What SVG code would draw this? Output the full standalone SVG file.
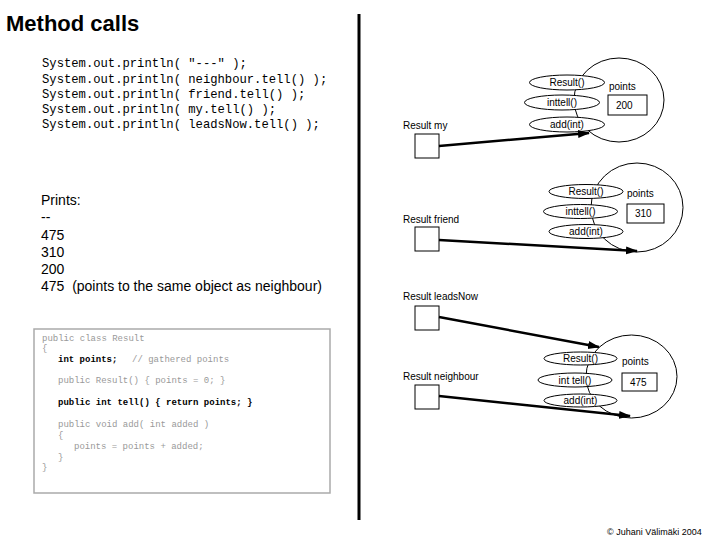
<svg xmlns="http://www.w3.org/2000/svg" width="720" height="540" viewBox="0 0 720 540">
<defs>
<style>
.t{font-family:"Liberation Sans",Arial,sans-serif;fill:#000}
.s{font-size:10px}
.m{font-family:"Liberation Mono","Courier New",monospace}
.g{fill:#999;font-size:9px}
.b{fill:#000;font-size:9px;font-weight:bold}
.ov{fill:#fff;stroke:#000;stroke-width:1}
.circ{fill:none;stroke:#000;stroke-width:1}
.box{fill:#fff;stroke:#000;stroke-width:1}
.arr{fill:none;stroke:#000;stroke-width:2.5}
</style>
<marker id="ah" markerUnits="userSpaceOnUse" markerWidth="12" markerHeight="10" refX="11" refY="5" orient="auto">
<path d="M0,1 L12,5 L0,9 Z" fill="#000"/>
</marker>
</defs>
<rect width="720" height="540" fill="#fff"/>

<g id="title">
<text class="t" x="6" y="31" font-size="22" font-weight="bold">Method calls</text>
</g>
<line x1="359" y1="14" x2="359" y2="520" stroke="#000" stroke-width="3"/>

<g id="main-code" class="m" font-size="12.2" fill="#000">
<text x="42" y="67" xml:space="preserve">System.out.println( "---" );</text>
<text x="42" y="83" xml:space="preserve">System.out.println( neighbour.tell() );</text>
<text x="42" y="98" xml:space="preserve">System.out.println( friend.tell() );</text>
<text x="42" y="113" xml:space="preserve">System.out.println( my.tell() );</text>
<text x="42" y="128" xml:space="preserve">System.out.println( leadsNow.tell() );</text>
</g>

<g id="prints" class="t" font-size="14">
<text x="41" y="205">Prints:</text>
<text x="41" y="222">--</text>
<text x="41" y="240">475</text>
<text x="41" y="257">310</text>
<text x="41" y="274">200</text>
<text x="41" y="291" xml:space="preserve">475  (points to the same object as neighbour)</text>
</g>

<g id="class-code">
<rect x="34" y="329" width="296" height="164" fill="#fff" stroke="#aaa" stroke-width="1.5"/>
<g class="m">
<text class="g" x="42" y="341">public class Result</text>
<text class="g" x="42" y="351">{</text>
<text class="b" x="58" y="362">int points;</text>
<text class="g" x="132" y="362">// gathered points</text>
<text class="g" x="58" y="383">public Result() { points = 0; }</text>
<text class="b" x="58" y="405">public int tell() { return points; }</text>
<text class="g" x="58" y="427">public void add( int added )</text>
<text class="g" x="58" y="438">{</text>
<text class="g" x="74" y="449">points = points + added;</text>
<text class="g" x="58" y="460">}</text>
<text class="g" x="42" y="470">}</text>
</g>
</g>

<g id="obj-my">
<ellipse class="circ" cx="619" cy="100" rx="45" ry="42"/>
<ellipse class="ov" cx="567" cy="82.5" rx="37.5" ry="7.5"/>
<ellipse class="ov" cx="562" cy="102.5" rx="37.5" ry="7.5"/>
<ellipse class="ov" cx="567" cy="124.5" rx="37.5" ry="7.5"/>
<text class="t s" x="567" y="86" text-anchor="middle">Result()</text>
<text class="t s" x="562" y="106" text-anchor="middle">inttell()</text>
<text class="t s" x="567" y="128" text-anchor="middle">add(int)</text>
<text class="t s" x="609" y="90">points</text>
<rect class="box" x="608" y="95" width="39" height="20"/>
<text class="t s" x="616" y="109">200</text>
</g>

<g id="obj-friend">
<ellipse class="circ" cx="637" cy="207.5" rx="46" ry="44.5"/>
<ellipse class="ov" cx="586" cy="191.5" rx="37" ry="7"/>
<ellipse class="ov" cx="580.5" cy="211.5" rx="37" ry="7"/>
<ellipse class="ov" cx="586" cy="231.5" rx="37" ry="7"/>
<text class="t s" x="586" y="195" text-anchor="middle">Result()</text>
<text class="t s" x="580.5" y="215" text-anchor="middle">inttell()</text>
<text class="t s" x="586" y="235" text-anchor="middle">add(int)</text>
<text class="t s" x="627" y="197">points</text>
<rect class="box" x="627" y="204" width="37" height="19"/>
<text class="t s" x="635" y="217">310</text>
</g>

<g id="obj-neighbour">
<ellipse class="circ" cx="631.5" cy="376.5" rx="45.5" ry="41.5"/>
<ellipse class="ov" cx="580.5" cy="358.5" rx="36.5" ry="6.5"/>
<ellipse class="ov" cx="575" cy="380" rx="37" ry="7"/>
<ellipse class="ov" cx="580.5" cy="400.5" rx="36.5" ry="6.5"/>
<text class="t s" x="580.5" y="362" text-anchor="middle">Result()</text>
<text class="t s" x="575" y="383.5" text-anchor="middle">int tell()</text>
<text class="t s" x="580.5" y="404" text-anchor="middle">add(int)</text>
<text class="t s" x="622" y="365">points</text>
<rect class="box" x="622" y="373" width="35" height="18"/>
<text class="t s" x="630" y="386">475</text>
</g>

<g id="ref-my">
<text class="t s" x="403" y="129">Result my</text>
<rect class="box" x="415" y="134" width="24" height="24"/>
</g>
<g id="ref-friend">
<text class="t s" x="403" y="223">Result friend</text>
<rect class="box" x="415" y="227" width="24" height="24"/>
</g>
<g id="ref-leadsNow">
<text class="t s" x="403" y="300">Result leadsNow</text>
<rect class="box" x="415" y="306" width="24" height="24"/>
</g>
<g id="ref-neighbour">
<text class="t s" x="403" y="380">Result neighbour</text>
<rect class="box" x="415" y="385" width="24" height="24"/>
</g>

<g id="connectors">
<line class="arr" x1="439" y1="146" x2="589" y2="133" marker-end="url(#ah)"/>
<line class="arr" x1="439" y1="240" x2="637" y2="251" marker-end="url(#ah)"/>
<line class="arr" x1="439" y1="317" x2="599" y2="347" marker-end="url(#ah)"/>
<line class="arr" x1="439" y1="396" x2="630" y2="416" marker-end="url(#ah)"/>
</g>

<g id="copyright">
<text class="t" x="607" y="535" font-size="9">© Juhani Välimäki 2004</text>
</g>
</svg>
